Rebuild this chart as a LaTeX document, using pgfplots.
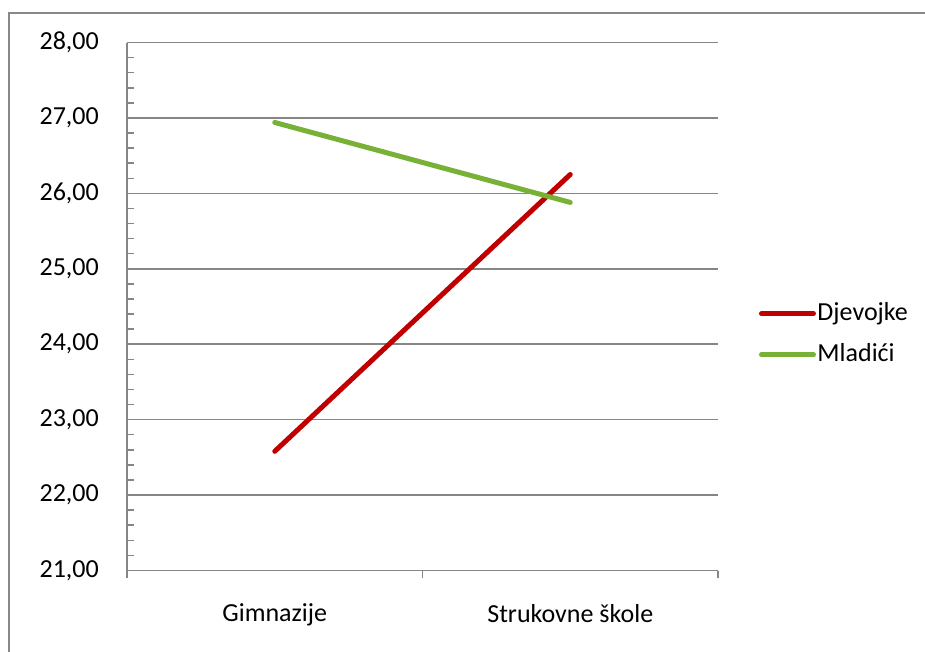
\documentclass[border=0pt]{standalone}
\usepackage{pgfplots}
\pgfplotsset{compat=1.18}
\usepackage{fontspec}
\setmainfont{Carlito}
\definecolor{djred}{HTML}{C00000}
\definecolor{mlgreen}{HTML}{77B135}
\definecolor{gridgray}{HTML}{868686}
\definecolor{framegray}{HTML}{888888}
\begin{document}
\fontsize{26}{31}\selectfont
\begin{tikzpicture}
\path[use as bounding box] (0pt,0pt) rectangle (925pt,651pt);
\begin{scope}
  \clip (0pt,0pt) rectangle (925pt,651pt);
  \draw[framegray, line width=2pt] (9pt,-20pt) rectangle (945pt,638pt);
\end{scope}
\begin{axis}[
    at={(127pt,80.5pt)}, anchor=south west,
    scale only axis,
    width=591pt, height=528pt,
    xmin=0, xmax=2,
    ymin=21, ymax=28,
    axis x line*=bottom,
    axis y line*=left,
    axis line style={gridgray, line width=1.5pt},
    xtick={0,1,2},
    xticklabels={Gimnazije,Strukovne škole},
    x tick label as interval=true,
    x tick style={gridgray, line width=1.5pt},
    xtick align=outside,
    major x tick style={/pgfplots/major tick length=7pt},
    ytick={21,22,...,28},
    minor y tick num=4,
    y tick style={gridgray, line width=1.5pt},
    ytick align=inside,
    major y tick style={/pgfplots/major tick length=0pt},
    minor y tick style={/pgfplots/minor tick length=7pt},
    ymajorgrids,
    major grid style={gridgray, line width=1.5pt},
    /pgf/number format/assume math mode=true,
    yticklabel={\pgfmathprintnumber[fixed, fixed zerofill, precision=2, use comma, assume math mode=true]{\tick}},
    yticklabel style={inner sep=0pt, anchor=east, xshift=-28pt, font=\fontsize{26}{31}\selectfont, text=black},
    xticklabel style={inner sep=0pt, anchor=north, yshift=-29pt, font=\fontsize{26}{31}\selectfont, text=black},
    clip=false,
    legend style={
        at={(1.069,0.4475)}, anchor=west,
        draw=none, fill=none,
        inner sep=0pt,
        font=\fontsize{26}{31}\selectfont,
        nodes={inner sep=1.5pt},
        row sep=16pt,
    },
    legend cell align=left,
    legend image code/.code={\draw[#1, line cap=round] (0pt,0pt) -- (52pt,0pt);},
]
\addplot[djred, line width=5pt, line cap=round] coordinates {(0.5,22.58) (1.5,26.25)};
\addlegendentry{Djevojke}
\addplot[mlgreen, line width=5pt, line cap=round] coordinates {(0.5,26.94) (1.5,25.88)};
\addlegendentry{Mladići}
\end{axis}
\end{tikzpicture}
\end{document}
